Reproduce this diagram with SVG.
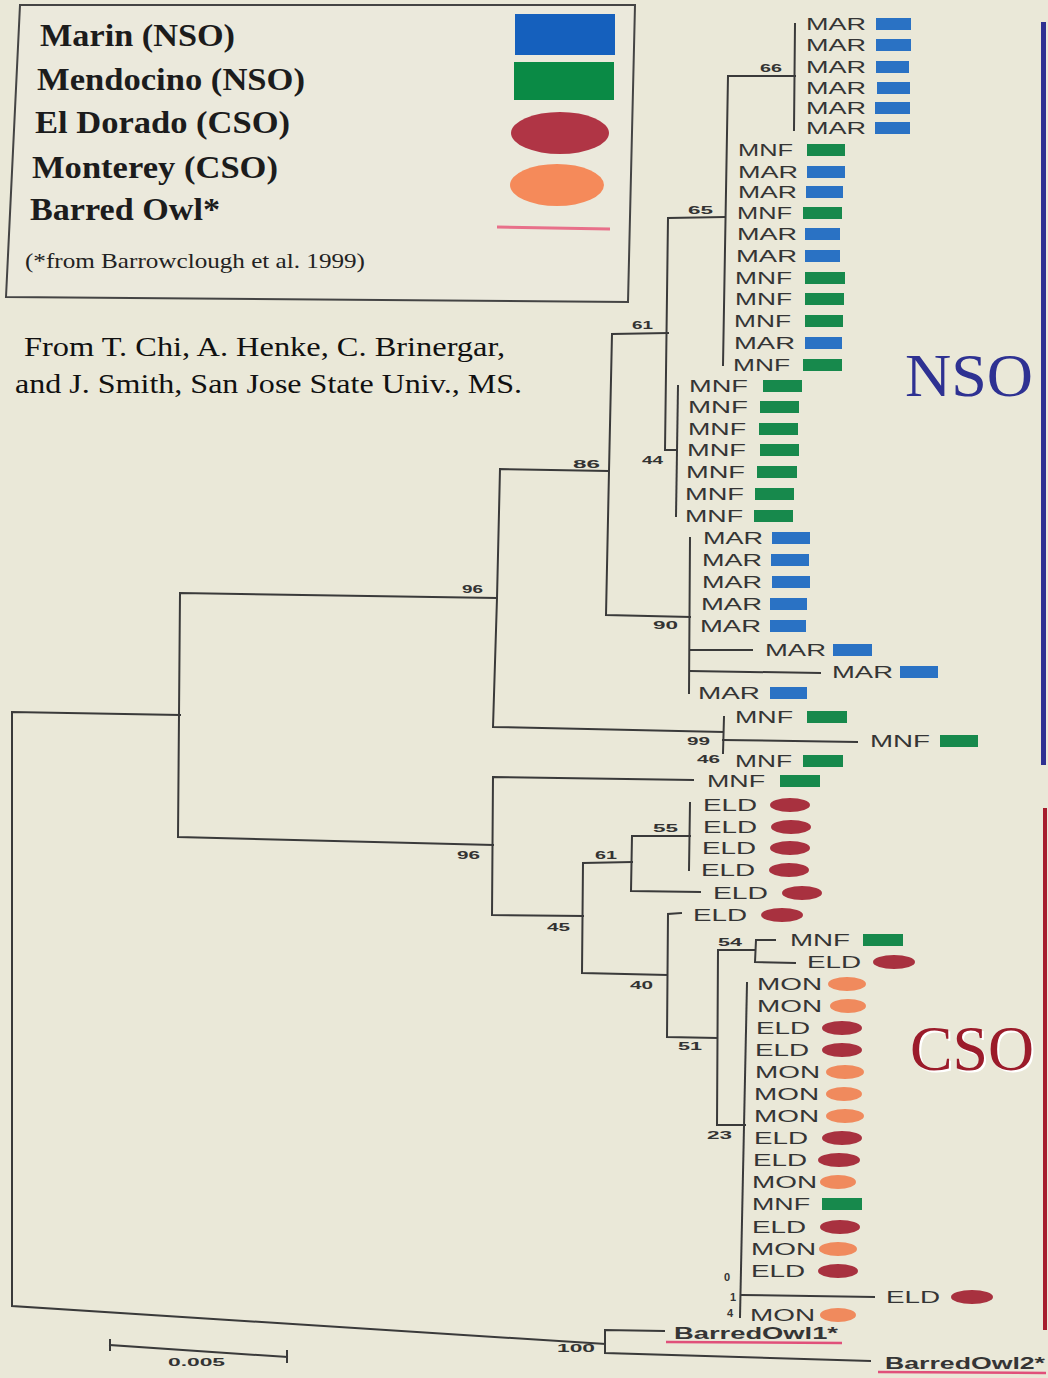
<svg xmlns="http://www.w3.org/2000/svg" width="1048" height="1378" viewBox="0 0 1048 1378">
<style>
.ln{stroke:#3a3a3a;stroke-width:2;fill:none;stroke-linecap:square}
.tx{font-family:"Liberation Sans",Arial,sans-serif;font-size:16px;fill:#353535}
.bs{font-family:"Liberation Sans",Arial,sans-serif;font-weight:bold;font-size:11px;fill:#333}
.lg{font-family:"Liberation Serif","Times New Roman",serif;font-weight:bold;font-size:31px;fill:#1c1c1c}
.ct{font-family:"Liberation Serif","Times New Roman",serif;font-size:27px;fill:#111}
.mar{fill:#2a72c4}
.mnf{fill:#17894c}
.eld{fill:#a8313f}
.mon{fill:#f08a5d}
.ul{stroke:#e0507a;stroke-width:2.5}
</style>
<rect x="0" y="0" width="1048" height="1378" fill="#eae8d8"/>

<g id="legend">
<polygon points="20,5 635,5 628,302 6,297" fill="#ebe9dc" stroke="#444" stroke-width="2"/>
<text class="lg" x="40" y="46" textLength="195" lengthAdjust="spacingAndGlyphs">Marin (NSO)</text>
<text class="lg" x="37" y="90" textLength="268" lengthAdjust="spacingAndGlyphs">Mendocino (NSO)</text>
<text class="lg" x="35" y="133" textLength="255" lengthAdjust="spacingAndGlyphs">El Dorado (CSO)</text>
<text class="lg" x="32" y="178" textLength="246" lengthAdjust="spacingAndGlyphs">Monterey (CSO)</text>
<text class="lg" x="30" y="220" textLength="190" lengthAdjust="spacingAndGlyphs">Barred Owl*</text>
<text x="25" y="268" font-family="Liberation Serif, Times New Roman, serif" font-size="21" fill="#222" textLength="340" lengthAdjust="spacingAndGlyphs">(*from Barrowclough et al. 1999)</text>
<rect x="515" y="14" width="100" height="41" fill="#1560bd"/>
<rect x="514" y="62" width="100" height="38" fill="#0a8a45"/>
<ellipse cx="560" cy="133" rx="49" ry="21" fill="#b03545"/>
<ellipse cx="557" cy="185" rx="47" ry="21" fill="#f58a5a"/>
<line x1="497" y1="227" x2="610" y2="229" stroke="#e8708a" stroke-width="3"/>
</g>

<g id="citation">
<text class="ct" x="24" y="356" textLength="481" lengthAdjust="spacingAndGlyphs">From T. Chi, A. Henke, C. Brinergar,</text>
<text class="ct" x="15" y="393" textLength="507" lengthAdjust="spacingAndGlyphs">and J. Smith, San Jose State Univ., MS.</text>
</g>

<g id="group-labels">
<rect x="1041" y="22" width="5" height="743" fill="#2e3192"/>
<text x="905" y="396" font-family="Liberation Serif, Times New Roman, serif" font-size="62" fill="#2e3192" textLength="128" lengthAdjust="spacingAndGlyphs">NSO</text>
<rect x="1043" y="808" width="4" height="522" fill="#a51d2d"/>
<text x="912" y="1072" font-family="Liberation Serif, Times New Roman, serif" font-size="64" fill="#fff" textLength="124" lengthAdjust="spacingAndGlyphs">CSO</text>
<text x="910" y="1070" font-family="Liberation Serif, Times New Roman, serif" font-size="64" fill="#9b1b2a" textLength="124" lengthAdjust="spacingAndGlyphs">CSO</text>
</g>

<g id="connectors">
<polyline class="ln" points="180,715 12,712 12,1306 605,1344"/>
<polyline class="ln" points="497,598 180,593 178,837 493,845"/>
<polyline class="ln" points="608,471 500,469 497,598 493,727 723,732"/>
<polyline class="ln" points="668,333 612,334 609,471 606,615 690,617"/>
<polyline class="ln" points="725,217 668,218 665,450 677,450"/>
<polyline class="ln" points="795,76 728,76 723,365"/>
<line class="ln" x1="795" y1="24" x2="794" y2="130"/>
<line class="ln" x1="678" y1="386" x2="676" y2="516"/>
<line class="ln" x1="690" y1="538" x2="689" y2="693"/>
<line class="ln" x1="690" y1="650" x2="752" y2="650"/>
<line class="ln" x1="690" y1="671" x2="820" y2="673"/>
<line class="ln" x1="724" y1="717" x2="723" y2="753"/>
<line class="ln" x1="723" y1="740" x2="857" y2="742"/>
<polyline class="ln" points="693,780 493,777 492,915 583,916"/>
<polyline class="ln" points="632,862 583,863 582,973 667,975"/>
<polyline class="ln" points="690,836 632,836 631,891 700,892"/>
<line class="ln" x1="690" y1="803" x2="689" y2="870"/>
<polyline class="ln" points="681,913 668,914 667,1037 717,1038"/>
<polyline class="ln" points="755,950 718,950 717,1125 745,1125"/>
<polyline class="ln" points="775,940 756,940 755,962 795,963"/>
<line class="ln" x1="747" y1="983" x2="740" y2="1317"/>
<line class="ln" x1="742" y1="1295" x2="874" y2="1297"/>
<polyline class="ln" points="664,1331 605,1330 605,1353 870,1361"/>
<line class="ln" x1="110" y1="1345" x2="287" y2="1357"/>
<line class="ln" x1="110" y1="1340" x2="110" y2="1350"/>
<line class="ln" x1="287" y1="1351" x2="287" y2="1362"/>
</g>

<g id="support-values">
<text class="bs" x="760" y="72" textLength="22" lengthAdjust="spacingAndGlyphs">66</text>
<text class="bs" x="688" y="214" textLength="25" lengthAdjust="spacingAndGlyphs">65</text>
<text class="bs" x="632" y="329" textLength="21" lengthAdjust="spacingAndGlyphs">61</text>
<text class="bs" x="642" y="464" textLength="21" lengthAdjust="spacingAndGlyphs">44</text>
<text class="bs" x="573" y="468" textLength="27" lengthAdjust="spacingAndGlyphs">86</text>
<text class="bs" x="462" y="593" textLength="21" lengthAdjust="spacingAndGlyphs">96</text>
<text class="bs" x="653" y="629" textLength="25" lengthAdjust="spacingAndGlyphs">90</text>
<text class="bs" x="687" y="745" textLength="23" lengthAdjust="spacingAndGlyphs">99</text>
<text class="bs" x="697" y="763" textLength="23" lengthAdjust="spacingAndGlyphs">46</text>
<text class="bs" x="653" y="832" textLength="25" lengthAdjust="spacingAndGlyphs">55</text>
<text class="bs" x="457" y="859" textLength="23" lengthAdjust="spacingAndGlyphs">96</text>
<text class="bs" x="595" y="859" textLength="22" lengthAdjust="spacingAndGlyphs">61</text>
<text class="bs" x="547" y="931" textLength="23" lengthAdjust="spacingAndGlyphs">45</text>
<text class="bs" x="718" y="946" textLength="24" lengthAdjust="spacingAndGlyphs">54</text>
<text class="bs" x="630" y="989" textLength="23" lengthAdjust="spacingAndGlyphs">40</text>
<text class="bs" x="678" y="1050" textLength="24" lengthAdjust="spacingAndGlyphs">51</text>
<text class="bs" x="707" y="1139" textLength="25" lengthAdjust="spacingAndGlyphs">23</text>
<text class="bs" x="724" y="1281">0</text>
<text class="bs" x="730" y="1301">1</text>
<text class="bs" x="727" y="1317">4</text>
<text class="bs" x="557" y="1352" textLength="38" lengthAdjust="spacingAndGlyphs">100</text>
<text class="bs" x="168" y="1366" textLength="57" lengthAdjust="spacingAndGlyphs">0.005</text>
</g>

<g id="leaf-01"><text class="tx" x="806" y="30" textLength="60" lengthAdjust="spacingAndGlyphs">MAR</text><rect class="mar" x="876" y="18" width="35" height="12"/></g>
<g id="leaf-02"><text class="tx" x="806" y="51" textLength="60" lengthAdjust="spacingAndGlyphs">MAR</text><rect class="mar" x="876" y="39" width="35" height="12"/></g>
<g id="leaf-03"><text class="tx" x="806" y="73" textLength="60" lengthAdjust="spacingAndGlyphs">MAR</text><rect class="mar" x="876" y="61" width="33" height="12"/></g>
<g id="leaf-04"><text class="tx" x="806" y="94" textLength="60" lengthAdjust="spacingAndGlyphs">MAR</text><rect class="mar" x="877" y="82" width="33" height="12"/></g>
<g id="leaf-05"><text class="tx" x="806" y="114" textLength="60" lengthAdjust="spacingAndGlyphs">MAR</text><rect class="mar" x="875" y="102" width="35" height="12"/></g>
<g id="leaf-06"><text class="tx" x="806" y="134" textLength="60" lengthAdjust="spacingAndGlyphs">MAR</text><rect class="mar" x="875" y="122" width="35" height="12"/></g>

<g id="leaf-07"><text class="tx" x="738" y="156" textLength="55" lengthAdjust="spacingAndGlyphs">MNF</text><rect class="mnf" x="807" y="144" width="38" height="12"/></g>
<g id="leaf-08"><text class="tx" x="738" y="178" textLength="60" lengthAdjust="spacingAndGlyphs">MAR</text><rect class="mar" x="807" y="166" width="38" height="12"/></g>
<g id="leaf-09"><text class="tx" x="738" y="198" textLength="59" lengthAdjust="spacingAndGlyphs">MAR</text><rect class="mar" x="806" y="186" width="37" height="12"/></g>
<g id="leaf-10"><text class="tx" x="737" y="219" textLength="55" lengthAdjust="spacingAndGlyphs">MNF</text><rect class="mnf" x="803" y="207" width="39" height="12"/></g>
<g id="leaf-11"><text class="tx" x="737" y="240" textLength="60" lengthAdjust="spacingAndGlyphs">MAR</text><rect class="mar" x="805" y="228" width="35" height="12"/></g>
<g id="leaf-12"><text class="tx" x="736" y="262" textLength="61" lengthAdjust="spacingAndGlyphs">MAR</text><rect class="mar" x="805" y="250" width="35" height="12"/></g>
<g id="leaf-13"><text class="tx" x="735" y="284" textLength="57" lengthAdjust="spacingAndGlyphs">MNF</text><rect class="mnf" x="805" y="272" width="40" height="12"/></g>
<g id="leaf-14"><text class="tx" x="735" y="305" textLength="57" lengthAdjust="spacingAndGlyphs">MNF</text><rect class="mnf" x="805" y="293" width="39" height="12"/></g>
<g id="leaf-15"><text class="tx" x="734" y="327" textLength="57" lengthAdjust="spacingAndGlyphs">MNF</text><rect class="mnf" x="805" y="315" width="38" height="12"/></g>
<g id="leaf-16"><text class="tx" x="734" y="349" textLength="61" lengthAdjust="spacingAndGlyphs">MAR</text><rect class="mar" x="805" y="337" width="37" height="12"/></g>
<g id="leaf-17"><text class="tx" x="733" y="371" textLength="57" lengthAdjust="spacingAndGlyphs">MNF</text><rect class="mnf" x="803" y="359" width="39" height="12"/></g>

<g id="leaf-18"><text class="tx" x="689" y="392" textLength="59" lengthAdjust="spacingAndGlyphs">MNF</text><rect class="mnf" x="763" y="380" width="39" height="12"/></g>
<g id="leaf-19"><text class="tx" x="688" y="413" textLength="60" lengthAdjust="spacingAndGlyphs">MNF</text><rect class="mnf" x="760" y="401" width="39" height="12"/></g>
<g id="leaf-20"><text class="tx" x="688" y="435" textLength="58" lengthAdjust="spacingAndGlyphs">MNF</text><rect class="mnf" x="759" y="423" width="39" height="12"/></g>
<g id="leaf-21"><text class="tx" x="687" y="456" textLength="59" lengthAdjust="spacingAndGlyphs">MNF</text><rect class="mnf" x="760" y="444" width="39" height="12"/></g>
<g id="leaf-22"><text class="tx" x="686" y="478" textLength="59" lengthAdjust="spacingAndGlyphs">MNF</text><rect class="mnf" x="757" y="466" width="40" height="12"/></g>
<g id="leaf-23"><text class="tx" x="685" y="500" textLength="59" lengthAdjust="spacingAndGlyphs">MNF</text><rect class="mnf" x="755" y="488" width="39" height="12"/></g>
<g id="leaf-24"><text class="tx" x="685" y="522" textLength="58" lengthAdjust="spacingAndGlyphs">MNF</text><rect class="mnf" x="754" y="510" width="39" height="12"/></g>

<g id="leaf-25"><text class="tx" x="703" y="544" textLength="60" lengthAdjust="spacingAndGlyphs">MAR</text><rect class="mar" x="772" y="532" width="38" height="12"/></g>
<g id="leaf-26"><text class="tx" x="702" y="566" textLength="60" lengthAdjust="spacingAndGlyphs">MAR</text><rect class="mar" x="771" y="554" width="38" height="12"/></g>
<g id="leaf-27"><text class="tx" x="702" y="588" textLength="60" lengthAdjust="spacingAndGlyphs">MAR</text><rect class="mar" x="772" y="576" width="38" height="12"/></g>
<g id="leaf-28"><text class="tx" x="701" y="610" textLength="61" lengthAdjust="spacingAndGlyphs">MAR</text><rect class="mar" x="770" y="598" width="37" height="12"/></g>
<g id="leaf-29"><text class="tx" x="700" y="632" textLength="61" lengthAdjust="spacingAndGlyphs">MAR</text><rect class="mar" x="770" y="620" width="36" height="12"/></g>
<g id="leaf-30"><text class="tx" x="765" y="656" textLength="61" lengthAdjust="spacingAndGlyphs">MAR</text><rect class="mar" x="833" y="644" width="39" height="12"/></g>
<g id="leaf-31"><text class="tx" x="832" y="678" textLength="61" lengthAdjust="spacingAndGlyphs">MAR</text><rect class="mar" x="900" y="666" width="38" height="12"/></g>
<g id="leaf-32"><text class="tx" x="698" y="699" textLength="62" lengthAdjust="spacingAndGlyphs">MAR</text><rect class="mar" x="770" y="687" width="37" height="12"/></g>

<g id="leaf-33"><text class="tx" x="735" y="723" textLength="58" lengthAdjust="spacingAndGlyphs">MNF</text><rect class="mnf" x="807" y="711" width="40" height="12"/></g>
<g id="leaf-34"><text class="tx" x="870" y="747" textLength="60" lengthAdjust="spacingAndGlyphs">MNF</text><rect class="mnf" x="940" y="735" width="38" height="12"/></g>
<g id="leaf-35"><text class="tx" x="735" y="767" textLength="57" lengthAdjust="spacingAndGlyphs">MNF</text><rect class="mnf" x="803" y="755" width="40" height="12"/></g>

<g id="leaf-36"><text class="tx" x="707" y="787" textLength="58" lengthAdjust="spacingAndGlyphs">MNF</text><rect class="mnf" x="780" y="775" width="40" height="12"/></g>
<g id="leaf-37"><text class="tx" x="703" y="811" textLength="54" lengthAdjust="spacingAndGlyphs">ELD</text><ellipse class="eld" cx="790" cy="805" rx="20" ry="7"/></g>
<g id="leaf-38"><text class="tx" x="703" y="833" textLength="54" lengthAdjust="spacingAndGlyphs">ELD</text><ellipse class="eld" cx="791" cy="827" rx="20" ry="7"/></g>
<g id="leaf-39"><text class="tx" x="702" y="854" textLength="54" lengthAdjust="spacingAndGlyphs">ELD</text><ellipse class="eld" cx="790" cy="848" rx="20" ry="7"/></g>
<g id="leaf-40"><text class="tx" x="701" y="876" textLength="54" lengthAdjust="spacingAndGlyphs">ELD</text><ellipse class="eld" cx="789" cy="870" rx="20" ry="7"/></g>
<g id="leaf-41"><text class="tx" x="713" y="899" textLength="55" lengthAdjust="spacingAndGlyphs">ELD</text><ellipse class="eld" cx="802" cy="893" rx="20" ry="7"/></g>
<g id="leaf-42"><text class="tx" x="693" y="921" textLength="54" lengthAdjust="spacingAndGlyphs">ELD</text><ellipse class="eld" cx="782" cy="915" rx="21" ry="7"/></g>
<g id="leaf-43"><text class="tx" x="790" y="946" textLength="60" lengthAdjust="spacingAndGlyphs">MNF</text><rect class="mnf" x="863" y="934" width="40" height="12"/></g>
<g id="leaf-44"><text class="tx" x="807" y="968" textLength="54" lengthAdjust="spacingAndGlyphs">ELD</text><ellipse class="eld" cx="894" cy="962" rx="21" ry="7"/></g>

<g id="leaf-45"><text class="tx" x="757" y="990" textLength="65" lengthAdjust="spacingAndGlyphs">MON</text><ellipse class="mon" cx="847" cy="984" rx="19" ry="7"/></g>
<g id="leaf-46"><text class="tx" x="757" y="1012" textLength="65" lengthAdjust="spacingAndGlyphs">MON</text><ellipse class="mon" cx="848" cy="1006" rx="18" ry="7"/></g>
<g id="leaf-47"><text class="tx" x="756" y="1034" textLength="54" lengthAdjust="spacingAndGlyphs">ELD</text><ellipse class="eld" cx="842" cy="1028" rx="20" ry="7"/></g>
<g id="leaf-48"><text class="tx" x="755" y="1056" textLength="54" lengthAdjust="spacingAndGlyphs">ELD</text><ellipse class="eld" cx="842" cy="1050" rx="20" ry="7"/></g>
<g id="leaf-49"><text class="tx" x="755" y="1078" textLength="65" lengthAdjust="spacingAndGlyphs">MON</text><ellipse class="mon" cx="845" cy="1072" rx="19" ry="7"/></g>
<g id="leaf-50"><text class="tx" x="754" y="1100" textLength="65" lengthAdjust="spacingAndGlyphs">MON</text><ellipse class="mon" cx="844" cy="1094" rx="18" ry="7"/></g>
<g id="leaf-51"><text class="tx" x="754" y="1122" textLength="65" lengthAdjust="spacingAndGlyphs">MON</text><ellipse class="mon" cx="845" cy="1116" rx="19" ry="7"/></g>
<g id="leaf-52"><text class="tx" x="754" y="1144" textLength="54" lengthAdjust="spacingAndGlyphs">ELD</text><ellipse class="eld" cx="842" cy="1138" rx="20" ry="7"/></g>
<g id="leaf-53"><text class="tx" x="753" y="1166" textLength="54" lengthAdjust="spacingAndGlyphs">ELD</text><ellipse class="eld" cx="839" cy="1160" rx="21" ry="7"/></g>
<g id="leaf-54"><text class="tx" x="752" y="1188" textLength="65" lengthAdjust="spacingAndGlyphs">MON</text><ellipse class="mon" cx="838" cy="1182" rx="18" ry="7"/></g>
<g id="leaf-55"><text class="tx" x="752" y="1210" textLength="58" lengthAdjust="spacingAndGlyphs">MNF</text><rect class="mnf" x="822" y="1198" width="40" height="12"/></g>
<g id="leaf-56"><text class="tx" x="752" y="1233" textLength="54" lengthAdjust="spacingAndGlyphs">ELD</text><ellipse class="eld" cx="840" cy="1227" rx="20" ry="7"/></g>
<g id="leaf-57"><text class="tx" x="751" y="1255" textLength="65" lengthAdjust="spacingAndGlyphs">MON</text><ellipse class="mon" cx="838" cy="1249" rx="19" ry="7"/></g>
<g id="leaf-58"><text class="tx" x="751" y="1277" textLength="54" lengthAdjust="spacingAndGlyphs">ELD</text><ellipse class="eld" cx="838" cy="1271" rx="20" ry="7"/></g>
<g id="leaf-59"><text class="tx" x="886" y="1303" textLength="54" lengthAdjust="spacingAndGlyphs">ELD</text><ellipse class="eld" cx="972" cy="1297" rx="21" ry="7"/></g>
<g id="leaf-60"><text class="tx" x="750" y="1321" textLength="65" lengthAdjust="spacingAndGlyphs">MON</text><ellipse class="mon" cx="838" cy="1315" rx="18" ry="7"/></g>

<g id="barred-owl-1"><text class="tx" x="674" y="1339" textLength="164" lengthAdjust="spacingAndGlyphs" font-weight="bold">BarredOwl1*</text><line class="ul" x1="666" y1="1342" x2="842" y2="1343"/></g>
<g id="barred-owl-2"><text class="tx" x="885" y="1369" textLength="160" lengthAdjust="spacingAndGlyphs" font-weight="bold">BarredOwl2*</text><line class="ul" x1="878" y1="1372" x2="1046" y2="1373"/></g>
</svg>
